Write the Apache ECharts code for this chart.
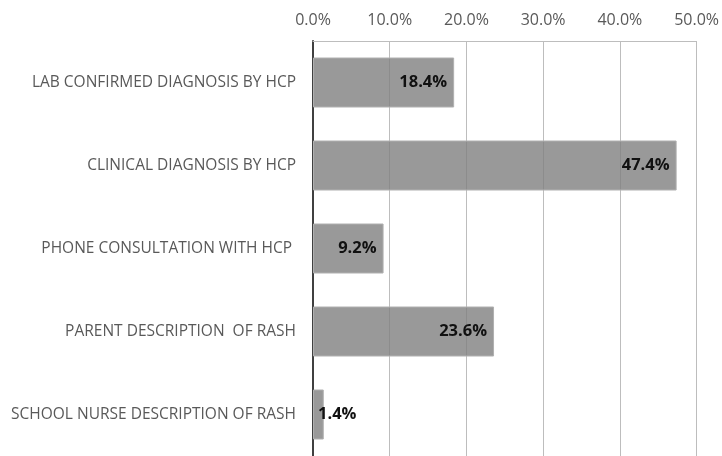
<!DOCTYPE html>
<html>
<head>
<meta charset="utf-8">
<script src="https://cdn.jsdelivr.net/npm/echarts@6/dist/echarts.min.js"></script>
<style>
  html, body { margin: 0; padding: 0; background: #fff; }
  #chart { width: 722px; height: 456px; }
</style>
</head>
<body>
<div id="chart"></div>
<script>
// categories top to bottom
const categories = [
  'LAB CONFIRMED DIAGNOSIS BY HCP',
  'CLINICAL DIAGNOSIS BY HCP',
  'PHONE CONSULTATION WITH HCP ',
  'PARENT DESCRIPTION  OF RASH',
  'SCHOOL NURSE DESCRIPTION OF RASH'
]
const values = [18.4, 47.4, 9.2, 23.6, 1.4]

const myChart = echarts.init(document.getElementById('chart'))

const option = {
  animation: false,
  textStyle: { fontFamily: 'Open Sans' },
  grid: {
    left: 313,
    right: 23,
    top: 41,
    bottom: -3
  },
  xAxis: {
    type: 'value',
    position: 'top',
    min: 0,
    max: 50,
    interval: 10,
    axisLine: { show: true, lineStyle: { color: '#bdbdbd' } },
    axisTick: { show: false },
    axisLabel: {
      color: '#595959',
      fontSize: 16,
      margin: 13,
      formatter: v => v.toFixed(1) + '%'
    },
    splitLine: { show: true, lineStyle: { color: '#bdbdbd', width: 1 } }
  },
  yAxis: {
    type: 'category',
    inverse: true,
    data: categories,
    axisLine: { show: true, lineStyle: { color: '#404040', width: 2 } },
    axisTick: { show: false },
    axisLabel: {
      color: '#595959',
      fontSize: 15.5,
      margin: 17
    }
  },
  series: [
    {
      type: 'bar',
      barWidth: 50,
      data: values.map(v => ({
        value: v,
        label: v < 5 ? { position: 'insideLeft', distance: 5 } : {}
      })),
      itemStyle: {
        color: 'rgba(128,128,128,0.8)',
        borderColor: '#b0b0b0',
        borderWidth: 1
      },
      label: {
        show: true,
        position: 'insideRight',
        distance: 7,
        color: '#111',
        fontWeight: 'bold',
        fontSize: 16.5,
        formatter: p => p.value.toFixed(1) + '%'
      }
    }
  ]
}

myChart.setOption(option)
</script>
</body>
</html>
